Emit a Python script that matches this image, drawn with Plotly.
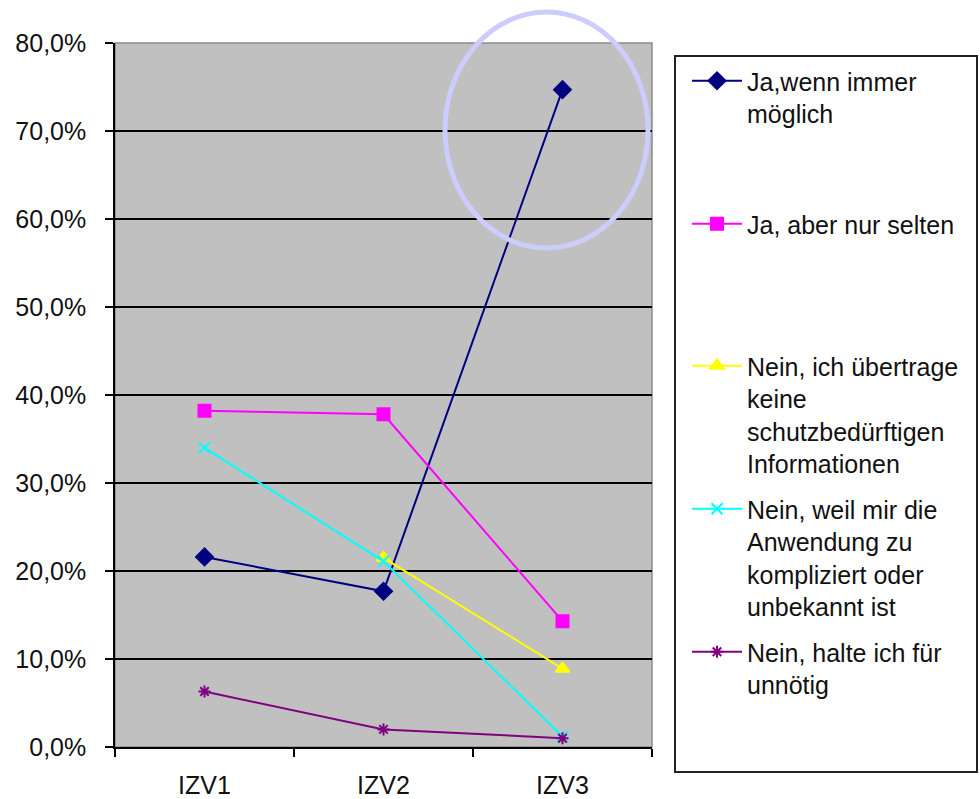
import plotly.graph_objects as go

# Survey results per wave
categories = ["IZV1", "IZV2", "IZV3"]
series_names = [
    "Ja,wenn immer<br>möglich",
    "Ja, aber nur selten",
    "Nein, ich übertrage<br>keine<br>schutzbedürftigen<br>Informationen",
    "Nein, weil mir die<br>Anwendung zu<br>kompliziert oder<br>unbekannt ist",
    "Nein, halte ich für<br>unnötig",
]
ja_immer = [0.216, 0.177, 0.747]
ja_selten = [0.382, 0.378, 0.143]
nein_keine_info = [None, 0.215, 0.089]
nein_kompliziert = [0.340, 0.211, 0.012]
nein_unnoetig = [0.063, 0.020, 0.010]

values = [ja_immer, ja_selten, nein_keine_info, nein_kompliziert, nein_unnoetig]
colors = ["#000080", "#ff00ff", "#ffff00", "#00ffff", "#800080"]
symbols = ["diamond", "square", "triangle-up", "x-thin-open", "asterisk-open"]
sizes = [13, 12, 12, 11, 10]

W, H = 980, 799
L, R, T, B = 115, 652, 43, 747  # plot area in pixels


def px(x):
    return (x - L) / (R - L)


def py(y):
    return (B - y) / (B - T)


FONT = "Liberation Sans, Arial, sans-serif"
legend_tops = [82, 225, 367, 510, 653]

fig = go.Figure()
legend_layout = {}
for i, (name, vals, col, sym, sz) in enumerate(zip(series_names, values, colors, symbols, sizes)):
    lg = "legend" if i == 0 else f"legend{i + 1}"
    fig.add_trace(go.Scatter(
        x=categories, y=vals, name=name, mode="lines+markers",
        line=dict(color=col, width=2),
        marker=dict(symbol=sym, size=sz, color=col, line=dict(color=col, width=2)),
        legend=lg, connectgaps=False,
    ))
    legend_layout[lg] = dict(
        x=px(687), xanchor="left", y=py(legend_tops[i] - 24), yanchor="top",
        bgcolor="rgba(0,0,0,0)", borderwidth=0,
        font=dict(family=FONT, size=25, color="#111111"),
        itemwidth=50, valign="top",
    )

shapes = [
    # plot area frame
    dict(type="rect", xref="paper", yref="paper", x0=0, x1=1, y0=0, y1=1,
         line=dict(color="#8a8a8a", width=1.5), layer="below"),
    # highlight ring around the IZV3 peak
    dict(type="circle", xref="paper", yref="paper",
         x0=px(445), x1=px(648), y0=py(248), y1=py(12),
         line=dict(color="#ccccff", width=5), layer="above"),
    # legend frame
    dict(type="rect", xref="paper", yref="paper",
         x0=px(675), x1=px(977), y0=py(772), y1=py(56),
         line=dict(color="#222222", width=2), fillcolor="white", layer="below"),
]

fig.update_layout(
    width=W, height=H,
    margin=dict(l=L, r=W - R, t=T, b=H - B, pad=0, autoexpand=False),
    paper_bgcolor="white", plot_bgcolor="#c0c0c0",
    separators=",.",
    font=dict(family=FONT, size=25, color="#111111"),
    shapes=shapes,
    showlegend=True,
    **legend_layout,
    xaxis=dict(
        type="category", range=[-0.5, 2.5], tickson="boundaries",
        ticks="outside", ticklen=8, tickcolor="black", tickwidth=1.5,
        showline=True, linecolor="black", linewidth=1.5,
        showgrid=False, ticklabelstandoff=15, automargin=False,
        tickfont=dict(family=FONT, size=25, color="#111111"),
    ),
    yaxis=dict(
        range=[0, 0.8], dtick=0.1, tickformat=".1%",
        ticks="outside", ticklen=8, tickcolor="black", tickwidth=1.5,
        showline=True, linecolor="black", linewidth=1.5,
        showgrid=True, gridcolor="black", gridwidth=1.5,
        zeroline=False, ticklabelstandoff=14, automargin=False,
        tickfont=dict(family=FONT, size=25, color="#111111"),
    ),
)

fig.write_html("out.html")
